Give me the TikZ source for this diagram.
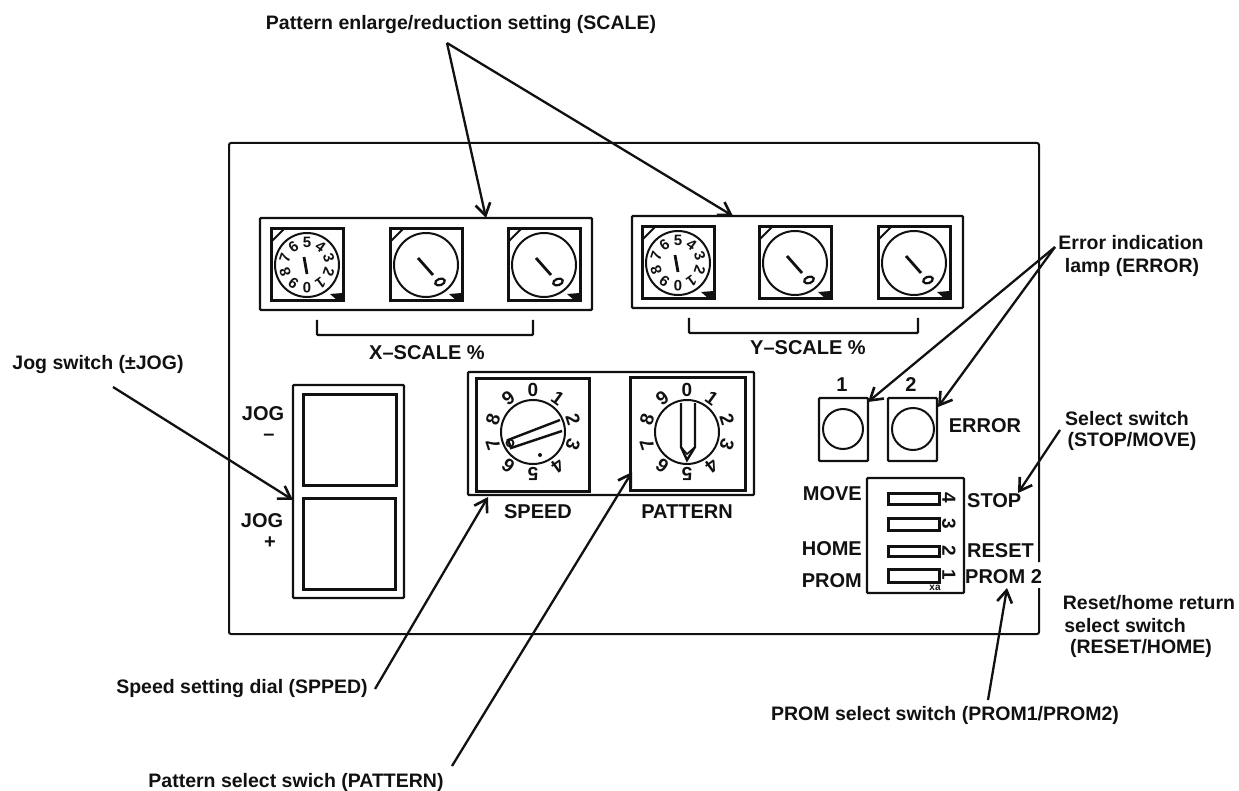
\documentclass[tikz,border=0pt]{standalone}
\usepackage{xcolor}
\usepackage{fontspec}
\setmainfont{Liberation Sans}
\usetikzlibrary{arrows.meta}
\definecolor{inkblack}{HTML}{111111}
\tikzset{
  panelline/.style={inkblack,line width=2pt},
  boxline/.style={inkblack,line width=2.4pt,rounded corners=1pt},
  dialbox/.style={inkblack,line width=3pt},
  knob/.style={inkblack,line width=2pt},
  leader/.style={inkblack,line width=2.3pt,-{Straight Barb[length=12pt,width=15pt,line width=2.6pt]}},
  calltext/.style={inkblack,font=\fontsize{19.5}{22}\selectfont\bfseries,inner sep=0pt},
  paneltext/.style={inkblack,font=\fontsize{20}{23}\selectfont\bfseries,inner sep=0pt},
  digit/.style={inkblack,font=\fontsize{19}{22}\selectfont\bfseries,inner sep=0pt},
  smalldigit/.style={inkblack,font=\fontsize{15}{17}\selectfont\bfseries,inner sep=0pt}
}
% square thumbwheel frame with its corner marks
\newcommand{\wheelframe}{
  \draw[dialbox] (-36,-36) rectangle (36,36);
  \draw[inkblack,line width=2pt] (-36,-23) -- (-23,-36);
  \fill[inkblack] (23,29) -- (36,28) -- (36,36) -- (31,36) -- cycle;
}
% wheel showing only the zero
\newcommand{\zerowheel}[1]{
  \begin{scope}[shift={#1}]
    \wheelframe
    \draw[knob] (0,0) circle[radius=32];
    \draw[inkblack,line width=2.8pt] (-8,-7) -- (7,10);
    \draw[inkblack,line width=2.2pt,shift={(14,17)},rotate=20] (0,0) circle[x radius=5,y radius=3.2];
  \end{scope}
}
% wheel showing all its digits
\newcommand{\digitwheel}[1]{
  \begin{scope}[shift={#1}]
    \wheelframe
    \draw[knob] (0,0) circle[radius=32];
    \draw[inkblack,line width=2.8pt] (-3,-8) -- (0,9);
    \foreach \n in {0,...,9}
      \node[smalldigit,rotate=180+36*\n] (w\n) at ({23*sin(36*\n)},{23*cos(36*\n)}) {\n};
  \end{scope}
}
% ring of digits round a rotary dial
\newcommand{\dialring}{
  \draw[knob] (0,0) circle[radius=32];
  \foreach \n in {0,...,9}
    \node[digit,rotate=-36*\n] (d\n) at ({42*sin(36*\n)},{-42*cos(36*\n)}) {\n};
}
\begin{document}
\begin{tikzpicture}[x=1pt,y=-1pt]
  \useasboundingbox (0,0) rectangle (1239,791);
  % panel outline, open beside PROM 2
  \draw[panelline,rounded corners=2pt] (1039,562) -- (1039,143) -- (229,143) -- (229,634) -- (1039,634) -- (1039,588);

  % scale switches
  \draw[boxline] (260,218) rectangle (592,310);
  \digitwheel{(307,265)}
  \zerowheel{(426,265)}
  \zerowheel{(544,265)}
  \draw[boxline] (317,320) -- (317,335) -- (533,335) -- (533,320);
  \node[paneltext] (xscale) at (427,353) {X--SCALE \%};

  \draw[boxline] (632,216) rectangle (963,308);
  \digitwheel{(678,263)}
  \zerowheel{(795,263)}
  \zerowheel{(914,263)}
  \draw[boxline] (689,318) -- (689,333) -- (918,333) -- (918,318);
  \node[paneltext] (yscale) at (808,348) {Y--SCALE \%};

  % jog switch
  \draw[boxline] (293,385) rectangle (404,598);
  \draw[dialbox] (303,394) rectangle (396,485);
  \draw[dialbox] (303,498) rectangle (395,589);
  \node[paneltext] (jogminus) at (263,414) {JOG};
  \node[paneltext] (minus) at (269,437) {--};
  \node[paneltext] (jogplus) at (262,521) {JOG};
  \node[paneltext] (plus) at (270,543) {+};

  % speed and pattern dials
  \draw[boxline] (468,372) rectangle (754,495);
  \draw[dialbox] (476,378) rectangle (589,491);
  \draw[dialbox] (630,377) rectangle (745,490);
  \begin{scope}[shift={(533,432)}]
    \dialring
    \draw[inkblack,line width=2.4pt] (27,-12) -- (-25,8) -- (-22,16) -- (29,-1);
    \draw[inkblack,line width=1.8pt] (-23,11) circle[radius=3.5];
    \fill[inkblack] (7,23) circle[radius=2];
  \end{scope}
  \begin{scope}[shift={(687,432)}]
    \dialring
    \draw[inkblack,line width=2.4pt] (-6,-29) -- (-6,15) -- (0,28) -- (8,15) -- (8,-29);
    \draw[inkblack,line width=1.6pt] (-6,15) -- (0,22) -- (8,15);
  \end{scope}
  \node[paneltext] (speed) at (538,512) {SPEED};
  \node[paneltext] (pattern) at (687,512) {PATTERN};

  % error lamps
  \draw[boxline] (819,398) rectangle (868,461);
  \draw[boxline] (888,398) rectangle (937,461);
  \draw[knob] (843,429) circle[radius=20];
  \draw[knob] (913,429) circle[radius=21];
  \node[paneltext] (lampone) at (842,385) {1};
  \node[paneltext] (lamptwo) at (911,385) {2};
  \node[paneltext] (error) at (985,426) {ERROR};

  % select switch block
  \draw[boxline] (867,478) rectangle (964,593);
  \draw[dialbox] (888,493) rectangle (939,504);
  \draw[dialbox] (888,518) rectangle (939,530);
  \draw[dialbox] (888,546) rectangle (939,556);
  \draw[dialbox] (888,569) rectangle (939,582);
  \node[digit,rotate=-90] (sw4) at (949,498) {4};
  \node[digit,rotate=-90] (sw3) at (949,524) {3};
  \node[digit,rotate=-90] (sw2) at (949,551) {2};
  \node[digit,rotate=-90] (sw1) at (949,575) {1};
  \node[inkblack,font=\fontsize{10}{11}\selectfont\bfseries,inner sep=0pt] (swmark) at (935,588) {xa};
  \node[paneltext,anchor=east] (move) at (862,494) {MOVE};
  \node[paneltext,anchor=east] (home) at (862,549) {HOME};
  \node[paneltext,anchor=east] (prom) at (862,581) {PROM};
  \node[paneltext,anchor=west] (stop) at (967,501) {STOP};
  \node[paneltext,anchor=west] (reset) at (967,551) {RESET};
  \node[paneltext,anchor=west] (promtwo) at (965,577) {PROM 2};

  % call-out texts
  \node[calltext] (scaletext) at (461,25) {Pattern enlarge/reduction setting (SCALE)};
  \node[calltext] (jogtext) at (98,365) {Jog switch (±JOG)};
  \node[calltext] (speedtext) at (242,688) {Speed setting dial (SPPED)};
  \node[calltext] (patterntext) at (296,782) {Pattern select swich (PATTERN)};
  \node[calltext] (promtext) at (945,715) {PROM select switch (PROM1/PROM2)};
  \node[calltext] (errtexta) at (1131,243) {Error indication};
  \node[calltext] (errtextb) at (1132,267) {lamp (ERROR)};
  \node[calltext] (seltexta) at (1127,419) {Select switch};
  \node[calltext] (seltextb) at (1132,441) {(STOP/MOVE)};
  \node[calltext] (resettexta) at (1149,603) {Reset/home return};
  \node[calltext] (resettextb) at (1125,626) {select switch};
  \node[calltext] (resettextc) at (1141,648) {(RESET/HOME)};

  % leaders
  \coordinate (scalefoot) at (447,43);
  \coordinate (xtip) at (486,218);
  \coordinate (ytip) at (733,216);
  \coordinate (errfoot) at (1055,247);
  \coordinate (lampa) at (868,402);
  \coordinate (lampb) at (938,407);
  \coordinate (jogfoot) at (113,387);
  \coordinate (jogtip) at (293,500);
  \coordinate (speedfoot) at (375,689);
  \coordinate (speedtip) at (488,497);
  \coordinate (patternfoot) at (452,766);
  \coordinate (patterntip) at (632,472);
  \coordinate (selfoot) at (1060,430);
  \coordinate (seltip) at (1018,493);
  \coordinate (promfoot) at (988,700);
  \coordinate (promtip) at (1007,588);
  \draw[leader] (scalefoot) -- (xtip);
  \draw[leader] (scalefoot) -- (ytip);
  \draw[leader] (errfoot) -- (lampa);
  \draw[leader] (errfoot) -- (lampb);
  \draw[leader] (jogfoot) -- (jogtip);
  \draw[leader] (speedfoot) -- (speedtip);
  \draw[leader] (patternfoot) -- (patterntip);
  \draw[leader] (selfoot) -- (seltip);
  \draw[leader] (promfoot) -- (promtip);
\end{tikzpicture}
\end{document}
